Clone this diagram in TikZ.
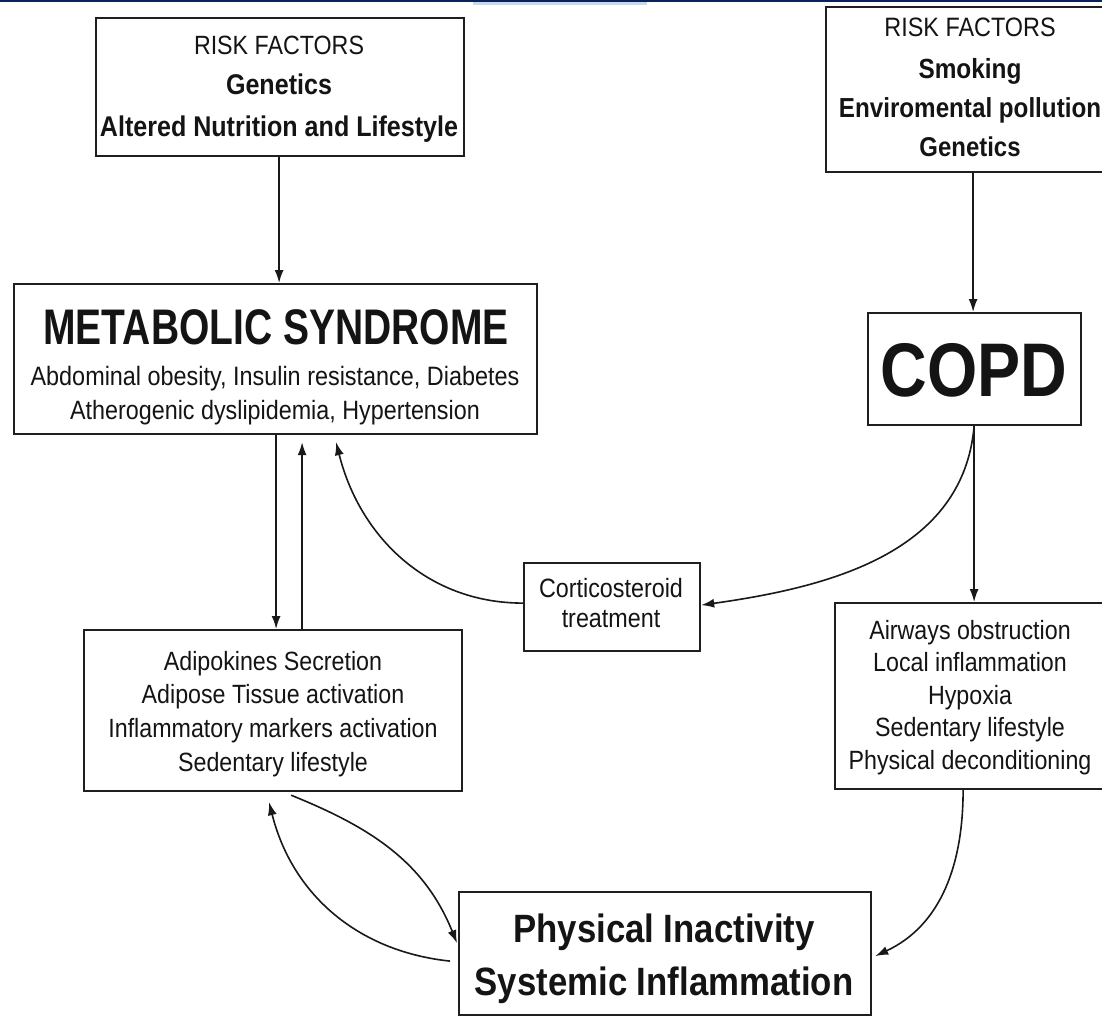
\documentclass[tikz,border=0pt]{standalone}
\usepackage{fontspec}
\setmainfont{Liberation Sans}[FakeStretch=0.88]
\newfontfamily\titlefont[FakeStretch=0.78]{Liberation Sans}
\newfontfamily\copdfont[FakeStretch=0.85]{Liberation Sans}
\usetikzlibrary{arrows.meta}
\definecolor{navy}{RGB}{12,32,92}
\definecolor{paleblue}{RGB}{195,218,240}
\newcommand\fsz[1]{\fontsize{#1}{#1}\selectfont}
\begin{document}
\begin{tikzpicture}[x=1pt,y=-1pt,
  box/.style={draw=black!88, line width=2.2pt, fill=white, inner sep=0pt, anchor=north west},
  txt/.style={inner sep=0pt, anchor=base, text=black!92},
  arr/.style={draw=black!90, line width=1.6pt, -{Latex[length=13pt,width=9pt]}},
  ]
\useasboundingbox[fill=white] (0,0) rectangle (1102,1016);
% top banner
\fill[navy] (0,0) rectangle (1102,2.5);
\fill[paleblue] (473,2.5) rectangle (647,5.5);

% boxes
\node[box, minimum width=368pt, minimum height=138pt] (rf1) at (95,17) {};
\node[box, minimum width=290pt, minimum height=165pt] (rf2) at (825,6) {};
\node[box, minimum width=523pt, minimum height=150pt] (ms) at (13,283) {};
\node[box, minimum width=213pt, minimum height=112pt] (copd) at (867,312) {};
\node[box, minimum width=176pt, minimum height=88pt] (cort) at (523,562) {};
\node[box, minimum width=378pt, minimum height=161pt] (adipo) at (83,629) {};
\node[box, minimum width=272pt, minimum height=186pt] (air) at (834,602) {};
\node[box, minimum width=412pt, minimum height=123pt] (pi) at (458,891) {};

% texts
\node[txt, font=\fsz{26.4}] (rf1a) at (279,54.5) {RISK FACTORS};
\node[txt, font=\fsz{28.5}\bfseries] (rf1b) at (279,95) {Genetics};
\node[txt, font=\fsz{28.5}\bfseries] (rf1c) at (279,137) {Altered Nutrition and Lifestyle};

\node[txt, font=\fsz{26.6}] (rf2a) at (970,37) {RISK FACTORS};
\node[txt, font=\fsz{27.7}\bfseries] (rf2b) at (970,79) {Smoking};
\node[txt, font=\fsz{27.5}\bfseries] (rf2c) at (970,118) {Enviromental pollution};
\node[txt, font=\fsz{27.2}\bfseries] (rf2d) at (970,157) {Genetics};

\node[txt, font=\titlefont\fsz{50}\bfseries] (msa) at (276,344) {METABOLIC SYNDROME};
\node[txt, font=\fsz{26.6}] (msb) at (275,385) {Abdominal obesity, Insulin resistance, Diabetes};
\node[txt, font=\fsz{26.5}] (msc) at (275,419) {Atherogenic dyslipidemia, Hypertension};

\node[txt, font=\copdfont\fsz{76}\bfseries] (copda) at (974,396) {COPD};

\node[txt, font=\fsz{26.5}] (corta) at (611,597) {Corticosteroid};
\node[txt, font=\fsz{26.5}] (cortb) at (611,627) {treatment};

\node[txt, font=\fsz{26.4}] (ada) at (273,670) {Adipokines Secretion};
\node[txt, font=\fsz{26.4}] (adb) at (273,703.7) {Adipose Tissue activation};
\node[txt, font=\fsz{26.4}] (adc) at (273,737.4) {Inflammatory markers activation};
\node[txt, font=\fsz{26.4}] (add) at (273,771) {Sedentary lifestyle};

\node[txt, font=\fsz{26.4}] (aira) at (970,639) {Airways obstruction};
\node[txt, font=\fsz{26.4}] (airb) at (970,671.5) {Local inflammation};
\node[txt, font=\fsz{26.4}] (airc) at (970,704) {Hypoxia};
\node[txt, font=\fsz{26.4}] (aird) at (970,736.5) {Sedentary lifestyle};
\node[txt, font=\fsz{26.4}] (aire) at (970,769) {Physical deconditioning};

\node[txt, font=\fsz{39.5}\bfseries] (pia) at (664,942) {Physical Inactivity};
\node[txt, font=\fsz{39.5}\bfseries] (pib) at (664,995) {Systemic Inflammation};

% connectors
\draw[arr] ([xshift=-1pt]rf1.south) -- ([xshift=-1pt]rf1.south |- ms.north);
\draw[arr] ([xshift=2pt]rf2.south) -- ([xshift=2pt]rf2.south |- copd.north);
\draw[arr] ([xshift=0.5pt]ms.south) -- ([xshift=0.5pt]ms.south |- adipo.north);
\draw[arr, shorten >=7pt] ([xshift=26.5pt]ms.south |- adipo.north) -- ([xshift=26.5pt]ms.south);
\draw[arr] ([yshift=4pt]cort.west) to[out=180, in=-76] ([xshift=60.5pt, yshift=-7pt]ms.south);
\draw[arr] ([xshift=-0.5pt]copd.south) to[out=-95, in=8] ([yshift=2pt]cort.east);
\draw[arr] ([xshift=-0.5pt]copd.south) -- ([xshift=-0.5pt]copd.south |- air.north);
\draw[arr] ([xshift=-8pt]air.south) to[out=-90, in=25] ([xshift=3pt, yshift=-2.5pt]pi.east);
\draw[arr] ([xshift=18pt, yshift=-3pt]adipo.south) to[out=-22, in=112] ([xshift=-1pt, yshift=10.5pt]pi.west);
\draw[arr] ([xshift=-8pt, yshift=-7.5pt]pi.west) to[out=174, in=-76] ([xshift=-4pt, yshift=-10pt]adipo.south);
\end{tikzpicture}
\end{document}
